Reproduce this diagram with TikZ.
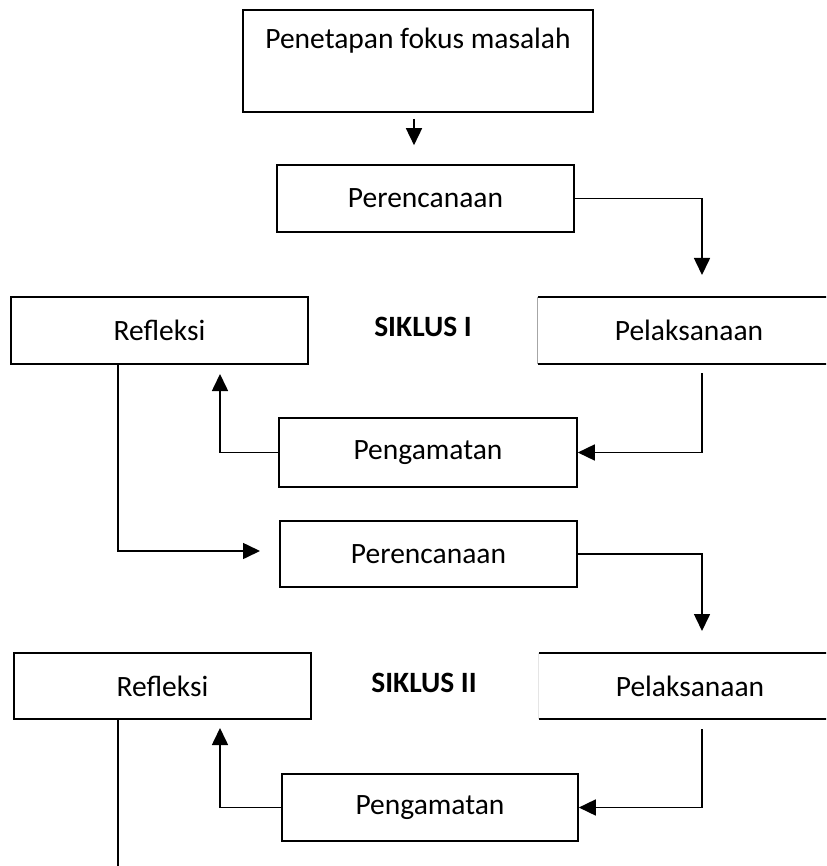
\documentclass[tikz,border=0pt]{standalone}
\usepackage{fontspec}
\setmainfont{Carlito}
\usetikzlibrary{arrows.meta}

\begin{document}
\begin{tikzpicture}[x=1pt,y=-1pt,font=\fontsize{29.5}{35}\selectfont,
  box/.style={draw,line width=1.6pt,minimum width=297pt,minimum height=67pt,inner sep=0pt},
  openbox/.style={minimum width=302pt,minimum height=67pt,inner sep=0pt},
  link/.style={line width=1.6pt},
  arr/.style={link,-{Triangle[length=17pt,width=16pt]}}]

\useasboundingbox (0,0) rectangle (826,866);
\clip (0,0) rectangle (826,866);

% boxes
\node (fokus) [box,minimum width=350pt,minimum height=102pt] at (418,61) {};
\node (fokustxt) [anchor=base] at ([shift={(0,39)}]fokus.north) {Penetapan fokus masalah};

\node (ren1) [box] at (425.5,198.5) {Perencanaan};
\node (refl1) [box] at (159.5,330.5) {Refleksi};
\node (pel1) [openbox] at (689,330.5) {Pelaksanaan};
\node (amat1) [box,minimum width=298pt,minimum height=69pt] at (428,452.5) {Pengamatan};
\node (sik1) at (423,327) {\bfseries SIKLUS I};

\node (ren2) [box,minimum height=66pt] at (428.5,554) {Perencanaan};
\node (refl2) [box,minimum height=66pt] at (162.5,686) {Refleksi};
\node (pel2) [openbox,minimum height=66pt] at (690,686) {Pelaksanaan};
\node (amat2) [box,minimum width=296pt] at (430,807.5) {Pengamatan};
\node (sik2) at (424,683) {\bfseries SIKLUS II};

% open boxes on the right
\draw[gray!70,line width=1pt] (pel1.north west) -- (pel1.south west);
\draw[link] (pel1.north west) -- (pel1.north east);
\draw[link] (pel1.south west) -- (pel1.south east);
\draw[gray!20,line width=1pt] (pel2.north west) -- (pel2.south west);
\draw[link] (pel2.north west) -- (pel2.north east);
\draw[link] (pel2.south west) -- (pel2.south east);

% free ends
\coordinate (t1) at (702,275);
\coordinate (s1) at (702,373);
\coordinate (u1) at (220,374);
\coordinate (r2in) at (260,551);
\coordinate (t2) at (702,631);
\coordinate (s2) at (702,729);
\coordinate (u2) at (220,728);
\coordinate (down) at (118,870);

% connectors
\draw[arr] ([shift={(-4,6)}]fokus.south) -- ([shift={(-11.5,-19)}]ren1.north);
\draw[arr] (ren1.east) -| (t1);
\draw[arr] (s1) |- (amat1.east);
\draw[arr] (amat1.west) -| (u1);
\draw[arr] ([shift={(-41.5,0)}]refl1.south) |- (r2in);

\draw[arr] (ren2.east) -| (t2);
\draw[arr] (s2) |- (amat2.east);
\draw[arr] (amat2.west) -| (u2);
\draw[link] ([shift={(-44.5,0)}]refl2.south) -- (down);

\end{tikzpicture}
\end{document}
